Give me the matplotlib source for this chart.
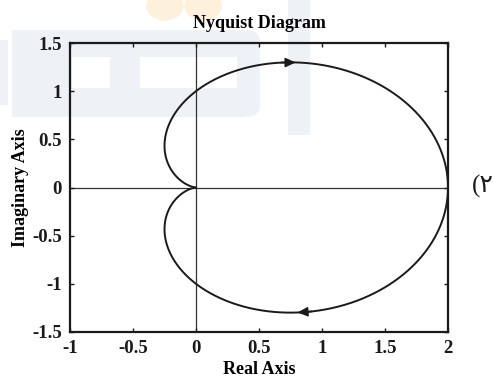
import numpy as np
import matplotlib
matplotlib.use("Agg")
import matplotlib.pyplot as plt
from matplotlib.patches import Rectangle, Circle, FancyBboxPatch

# Open-loop transfer function G(s) = 2 / (s + 1)^2
num = [2.0]
den = [1.0, 2.0, 1.0]

# Frequency grid (rad/s) and arrow frequencies on each branch
w = np.logspace(-3, 3, 3000)
arrow_w = [0.515, 0.607]

# Axis limits and ticks
x_ticks = [-1, -0.5, 0, 0.5, 1, 1.5, 2]
x_labels = ["-1", "-0.5", "0", "0.5", "1", "1.5", "2"]
y_ticks = [-1.5, -1, -0.5, 0, 0.5, 1, 1.5]
y_labels = ["-1.5", "-1", "-0.5", "0", "0.5", "1", "1.5"]

W, H = 493, 384
fig = plt.figure(figsize=(W / 100, H / 100), dpi=100)
fig.patch.set_facecolor("white")


def px(x, y):
    return x / W, 1 - y / H


# faint logo in the background
logo_grey = "#eef1f5"
logo_orange = "#fdf1dc"
for cx in (165, 203):
    fig.add_artist(Circle(px(cx, 6), 18 / W, transform=fig.transFigure,
                          color=logo_orange, zorder=-2))
bg = [
    (-20, 40, 28, 65),
    (12, 30, 233, 27),
    (12, 57, 60, 31),
    (110, 57, 30, 31),
    (12, 88, 233, 29),
    (288, 0, 22, 135),
]
for x0, y0, ww, hh in bg:
    fig.add_artist(Rectangle(px(x0, y0 + hh), ww / W, hh / H,
                             transform=fig.transFigure, color=logo_grey,
                             zorder=-2, lw=0))
fig.add_artist(FancyBboxPatch(px(237, 117), 23 / W, 87 / H,
                              boxstyle="round,pad=0,rounding_size=0.03",
                              transform=fig.transFigure, color=logo_grey,
                              zorder=-2, lw=0))

ax = fig.add_axes([70 / W, 1 - 332 / H, 378 / W, 289 / H])
ax.set_facecolor("none")

s = 1j * w
G = np.polyval(num, s) / np.polyval(den, s)

line_kw = dict(color="#1a1a1a", lw=1.4)
ax.plot(G.real, G.imag, **line_kw)
ax.plot(G.real, -G.imag, **line_kw)

arrow_kw = dict(arrowstyle="-|>,head_length=0.6,head_width=0.28",
                color="#1a1a1a", lw=1.2, shrinkA=0, shrinkB=0)

# direction arrows: lower branch (w>0) moves left, upper branch moves right
wa = arrow_w[0]
Ga = np.polyval(num, 1j * wa) / np.polyval(den, 1j * wa)
Gb = np.polyval(num, 1j * (wa * 1.08)) / np.polyval(den, 1j * (wa * 1.08))
ax.annotate("", xy=(Gb.real, Gb.imag), xytext=(Ga.real, Ga.imag),
            arrowprops=arrow_kw)
wb = arrow_w[1]
Gc = np.polyval(num, 1j * wb) / np.polyval(den, 1j * wb)
Gd = np.polyval(num, 1j * (wb / 1.08)) / np.polyval(den, 1j * (wb / 1.08))
ax.annotate("", xy=(Gd.real, -Gd.imag), xytext=(Gc.real, -Gc.imag),
            arrowprops=arrow_kw)

ax.axhline(0, color="#333333", lw=0.9, zorder=1)
ax.axvline(0, color="#333333", lw=0.9, zorder=1)

ax.set_xlim(-1, 2)
ax.set_ylim(-1.5, 1.5)

serif = ["Liberation Serif", "DejaVu Serif"]
ax.set_xticks(x_ticks)
ax.set_xticklabels(x_labels)
ax.set_yticks(y_ticks)
ax.set_yticklabels(y_labels)
for lab in ax.get_xticklabels() + ax.get_yticklabels():
    lab.set_fontfamily(serif)
    lab.set_fontweight("bold")
    lab.set_fontsize(13.5)
ax.tick_params(direction="in", length=3, width=1, top=True, right=True,
               pad=6, colors="#1a1a1a")
for sp in ax.spines.values():
    sp.set_linewidth(1.6)
    sp.set_color("#1a1a1a")

ax.set_title("Nyquist Diagram", fontfamily=serif, fontweight="bold",
             fontsize=13, pad=11)
ax.set_xlabel("Real Axis", fontfamily=serif, fontweight="bold",
              fontsize=13, labelpad=3)
ax.set_ylabel("Imaginary Axis", fontfamily=serif, fontweight="bold",
              fontsize=13, labelpad=2)

fig.text(472 / W, 1 - 186 / H, "(\u06f2", fontsize=18, va="center",
         ha="left", family=["Liberation Serif", "DejaVu Sans"],
         color="#1a1a1a")

fig.savefig("out.png", dpi=100)
